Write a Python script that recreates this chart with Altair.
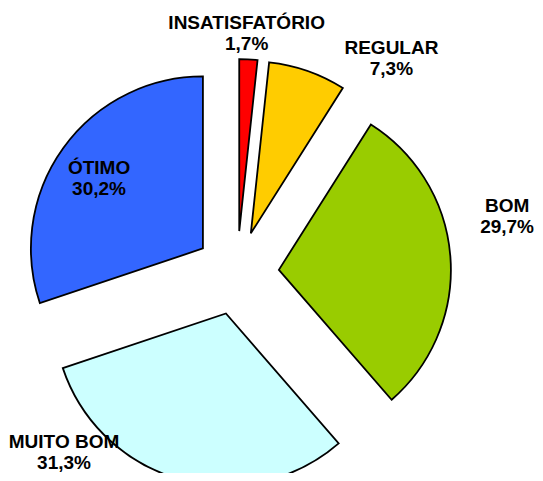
import math
import altair as alt
import pandas as pd

# ---- data ----
categories = ["INSATISFATÓRIO", "REGULAR", "BOM", "MUITO BOM", "ÓTIMO"]
values = [1.7, 7.3, 29.7, 31.3, 30.2]
pct_labels = ["1,7%", "7,3%", "29,7%", "31,3%", "30,2%"]
colors = ["#FF0000", "#FFCC00", "#99CC00", "#CCFFFF", "#3366FF"]

# ---- layout ----
CX, CY = 229, 265          # pie centre (plot pixels)
R = 172                    # pie radius
EXPLODE = 42               # explosion distance
LINE_H = 21
label_bearing = [2.3, 35.8, 78.1, 224.0, 304.3]   # degrees, clockwise from 12 o'clock
label_radius = [240, 264, 276, 249, 167]

total = sum(values)
rows = []
cum = 0.0
for i, (c, v) in enumerate(zip(categories, values)):
    start = cum / total * 2 * math.pi
    cum += v
    end = cum / total * 2 * math.pi
    mid = (start + end) / 2
    b = math.radians(label_bearing[i])
    rows.append({
        "cat": c,
        "value": v,
        "start": start,
        "end": end,
        "cx": CX + EXPLODE * math.sin(mid),
        "cy": CY - EXPLODE * math.cos(mid),
        "lx": CX + label_radius[i] * math.sin(b),
        "ly": CY - label_radius[i] * math.cos(b) - LINE_H / 2,
        "label": f"{c}\n{pct_labels[i]}",
    })
df = pd.DataFrame(rows)

base = alt.Chart(df)

arcs = base.mark_arc(radius=R, stroke="black", strokeWidth=1.8, strokeJoin="miter").encode(
    theta=alt.Theta("start:Q", scale=None),
    theta2="end:Q",
    x=alt.X("cx:Q", scale=None, axis=None),
    y=alt.Y("cy:Q", scale=None, axis=None),
    color=alt.Color("cat:N", scale=alt.Scale(domain=categories, range=colors), legend=None),
)

texts = base.mark_text(
    font="Liberation Sans", fontWeight="bold", fontSize=19, lineBreak="\n",
    lineHeight=LINE_H, align="center", baseline="middle", color="black",
).encode(
    x=alt.X("lx:Q", scale=None, axis=None),
    y=alt.Y("ly:Q", scale=None, axis=None),
    text="label:N",
)

chart = (arcs + texts).properties(
    width=527, height=465, padding=0, autosize="none", background="white"
).configure_view(stroke=None)

chart.save("out.html", embed_options={"renderer": "svg", "actions": False})
